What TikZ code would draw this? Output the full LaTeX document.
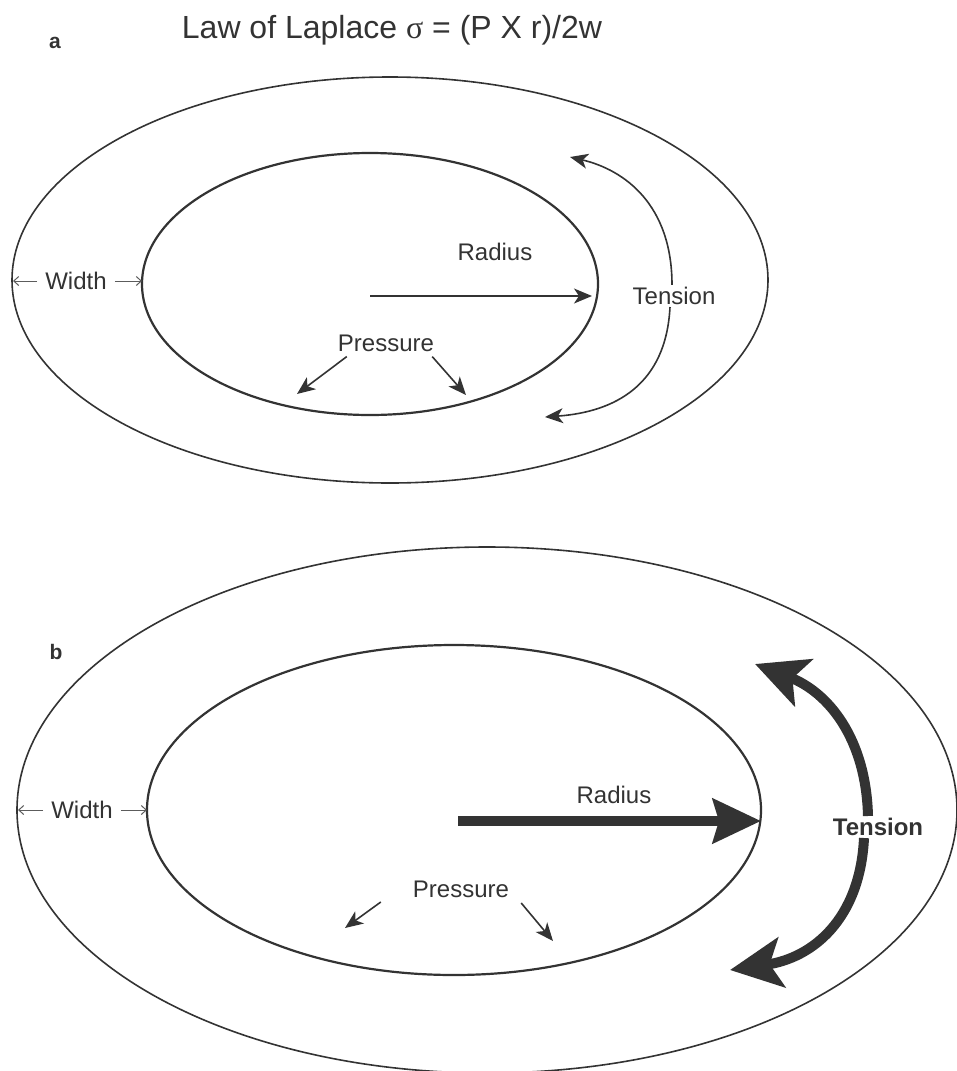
\documentclass[tikz,border=0pt]{standalone}
\usepackage{fontspec}
\setmainfont{Liberation Sans}
\newfontfamily\greekfont{Liberation Serif}
\usetikzlibrary{arrows.meta}
\definecolor{ink}{HTML}{333333}
\tikzset{
	lbl/.style={text=ink, inner sep=2pt, font=\fontsize{24}{28}\selectfont},
	tag/.style={text=ink, inner sep=2pt, font=\fontsize{21}{24}\selectfont\bfseries},
	thin arrow/.style={draw=ink, line width=1.6pt, -{Stealth[length=18pt,width=15pt,inset=5pt]}},
	width arrow/.style={draw=ink!80, line width=1pt, shorten <=6pt, -{Straight Barb[length=5pt,width=9pt]}},
	thick arrow/.style={draw=ink, line width=10pt, -{Stealth[length=48pt,width=44pt,inset=6pt]}},
	bend arrow/.style={draw=ink, line width=10pt, -{Stealth[length=52pt,width=50pt,inset=12pt]}},
	wall/.style={draw=ink, line width=1.6pt},
	lumen/.style={draw=ink, line width=2.2pt}
}

\begin{document}
\begin{tikzpicture}[x=1pt,y=-1pt]
	\useasboundingbox (0,0) rectangle (957,1071);

	% top: small radius, thin wall
	\node[tag] (taga) at (55,43) {a};
	\node[lbl, anchor=base, font=\fontsize{32}{36}\selectfont] (title) at (392,38) {Law of Laplace {\greekfont σ} = (P X r)/2w};
	\draw[wall] (390,280) ellipse [x radius=378, y radius=203];
	\draw[lumen] (370,284) ellipse [x radius=228, y radius=131];
	\coordinate (wa1) at (13,281);
	\coordinate (wa2) at (142,281);
	\coordinate (ca) at (370,296);
	\coordinate (ra) at (592,296);
	\coordinate (pa1) at (297,394);
	\coordinate (pa2) at (466,395);
	\coordinate (ta1) at (570,157);
	\coordinate (ta2) at (545,417);
	\node[lbl] (widtha) at (76,281) {Width};
	\node[lbl] (rada) at (495,252) {Radius};
	\node[lbl] (presa) at (386,343) {Pressure};
	\node[lbl] (tensa) at (674,296) {Tension};
	\draw[width arrow] (widtha.west) -- (wa1);
	\draw[width arrow] (widtha.east) -- (wa2);
	\draw[thin arrow] (ca) -- (ra);
	\draw[thin arrow] ([shift={(11,3)}]presa.south west) -- (pa1);
	\draw[thin arrow] ([shift={(-4,3)}]presa.south east) -- (pa2);
	\draw[thin arrow] ([xshift=-2]tensa.north) .. controls (672,205) and (625,170) .. (ta1);
	\draw[thin arrow] ([xshift=-4]tensa.south) .. controls (666,385) and (615,412) .. (ta2);

	% bottom: large radius, same wall
	\node[tag] (tagb) at (56,652) {b};
	\draw[wall] (487,810) ellipse [x radius=470, y radius=263];
	\draw[lumen] (454,810) ellipse [x radius=307, y radius=165];
	\coordinate (wb1) at (18,810);
	\coordinate (wb2) at (147,810);
	\coordinate (cb) at (458,821);
	\coordinate (rb) at (761,821);
	\coordinate (pb1) at (345,928);
	\coordinate (pb2) at (553,941);
	\coordinate (tb1) at (755,664);
	\coordinate (tb2) at (730,970);
	\node[lbl] (widthb) at (82,810) {Width};
	\node[lbl] (radb) at (614,795) {Radius};
	\node[lbl] (presb) at (461,889) {Pressure};
	\node[lbl, font=\fontsize{24}{28}\selectfont\bfseries] (tensb) at (878,827) {Tension};
	\draw[width arrow] (widthb.west) -- (wb1);
	\draw[width arrow] (widthb.east) -- (wb2);
	\draw[thick arrow] (cb) -- (rb);
	\draw[thin arrow] ([shift={(-30,13)}]presb.west) -- (pb1);
	\draw[thin arrow] ([shift={(10,14)}]presb.east) -- (pb2);
	\draw[bend arrow] ([xshift=-10]tensb.north) .. controls (866,738) and (828,692) .. (tb1);
	\draw[bend arrow] ([xshift=-14]tensb.south) .. controls (860,920) and (812,958) .. (tb2);
\end{tikzpicture}
\end{document}
